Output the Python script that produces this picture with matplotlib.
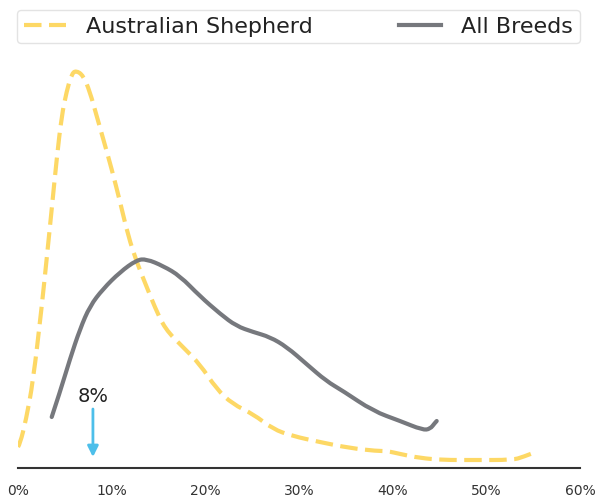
import matplotlib
matplotlib.use("Agg")
import matplotlib.pyplot as plt
from matplotlib.lines import Line2D
from matplotlib.path import Path
from matplotlib.patches import PathPatch
from matplotlib.ticker import FuncFormatter

# percent of dogs (x) vs density (y)
aussie_x = [0, 0.21, 0.85, 1.6, 2.53, 3.06, 3.6, 4.13, 4.66, 5.2, 5.73, 6.19, 6.97,
            7.68, 8.4, 9.1, 10.0, 10.9, 11.77, 12.67, 13.7, 14.6, 15.7, 17.6, 19.4,
            21.2, 22.9, 25.1, 27.2, 29.3, 32.2, 35.4, 38.3, 39.4, 40.8, 42.9, 45.4,
            48.6, 52.8, 53.9, 55.0]
aussie_y = [0.42, 0.48, 0.96, 1.72, 3.22, 4.18, 5.18, 6.18, 7.04, 7.54, 7.88, 7.95,
            7.85, 7.52, 7.04, 6.58, 5.98, 5.32, 4.64, 4.12, 3.64, 3.22, 2.78, 2.42,
            2.08, 1.58, 1.28, 1.08, 0.78, 0.64, 0.52, 0.40, 0.34, 0.34, 0.28, 0.20,
            0.16, 0.16, 0.16, 0.22, 0.30]

all_x = [3.6, 4.48, 5.55, 6.62, 7.68, 9.07, 10.9, 12.67, 13.7, 15.5, 17.3, 19.4,
         21.6, 23.3, 25.1, 26.9, 28.7, 30.8, 32.9, 34.7, 37.9, 40.8, 43.2, 44.0,
         44.5, 44.7]
all_y = [1.02, 1.52, 2.18, 2.78, 3.24, 3.58, 3.92, 4.16, 4.18, 4.04, 3.84, 3.44,
         3.08, 2.84, 2.72, 2.62, 2.42, 2.08, 1.74, 1.54, 1.14, 0.94, 0.76, 0.78,
         0.90, 0.94]

marker_value = 8
xticks = [0, 10, 20, 30, 40, 50, 60]

aussie_color = "#FDD865"
all_color = "#76787D"


def smooth_path(xs, ys):
    # quadratic b-spline through the midpoints, so the kde looks smooth
    pts = list(zip(xs, ys))
    verts = [pts[0]]
    codes = [Path.MOVETO]
    for i in range(1, len(pts) - 2):
        mid = ((pts[i][0] + pts[i + 1][0]) / 2, (pts[i][1] + pts[i + 1][1]) / 2)
        verts += [pts[i], mid]
        codes += [Path.CURVE3, Path.CURVE3]
    verts += [pts[-2], pts[-1]]
    codes += [Path.CURVE3, Path.CURVE3]
    return Path(verts, codes)


W, H = 597, 502
fig = plt.figure(figsize=(W / 100, H / 100), dpi=100)
ax = fig.add_axes([18 / W, 33 / H, 562 / W, 414 / H])

ax.add_patch(PathPatch(smooth_path(aussie_x, aussie_y), fill=False, edgecolor=aussie_color,
                       lw=3, linestyle=(0, (4.2, 1.8)), joinstyle="round"))
ax.add_patch(PathPatch(smooth_path(all_x, all_y), fill=False, edgecolor=all_color,
                       lw=3, capstyle="round", joinstyle="round"))

ax.annotate("", xy=(marker_value, 0.22), xytext=(marker_value, 1.18),
            arrowprops=dict(arrowstyle="-|>", color="#4DBFEA", lw=2,
                            mutation_scale=16, shrinkA=0, shrinkB=0))
ax.text(marker_value, 1.34, f"{marker_value}%", ha="center", va="baseline",
        fontsize=14, color="#222222")

ax.set_xlim(0, 60)
ax.set_ylim(0, 8.28)
ax.set_xticks(xticks)
ax.xaxis.set_major_formatter(FuncFormatter(lambda v, p: f"{v:.0f}%"))
ax.set_yticks([])
ax.tick_params(axis="x", length=0, pad=11, labelsize=10, labelcolor="#333333")
for s in ["top", "right", "left"]:
    ax.spines[s].set_visible(False)
ax.spines["bottom"].set_color("#333333")
ax.spines["bottom"].set_linewidth(1.5)

handles = [Line2D([], [], color=aussie_color, lw=3, dashes=(4.2, 1.8)),
           Line2D([], [], color=all_color, lw=3)]
fig.legend(handles, ["Australian Shepherd", "All Breeds"], loc="lower left",
           bbox_to_anchor=(17 / W, 1 - 44 / H, 563 / W, 37 / H),
           mode="expand", ncol=2, fontsize=16, frameon=True, fancybox=True,
           edgecolor="#DDDDDD", handlelength=1.9, handletextpad=0.9,
           borderpad=0.3, borderaxespad=0, labelcolor="#222222")

fig.savefig("out.png", dpi=100)
